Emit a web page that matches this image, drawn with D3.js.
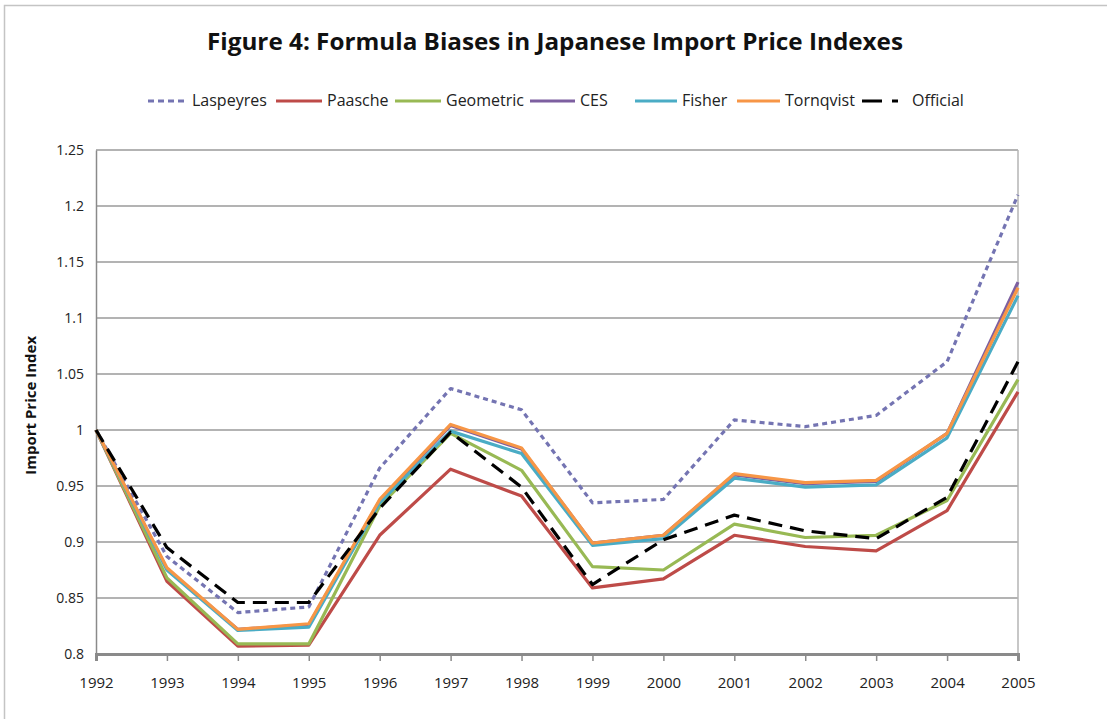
<!DOCTYPE html>
<html>
<head>
<meta charset="utf-8">
<script src="https://cdn.jsdelivr.net/npm/d3@7"></script>
<style>
  body { margin: 0; background: #fff; }
  svg { display: block; font-family: "Open Sans", sans-serif; }
</style>
</head>
<body>
<script>
// years on the x axis
const years = [1992, 1993, 1994, 1995, 1996, 1997, 1998, 1999, 2000, 2001, 2002, 2003, 2004, 2005];

// index values
const laspeyres  = [1.000, 0.887, 0.837, 0.842, 0.966, 1.037, 1.018, 0.935, 0.938, 1.009, 1.003, 1.013, 1.061, 1.210];
const paasche    = [1.000, 0.865, 0.807, 0.808, 0.906, 0.965, 0.941, 0.859, 0.867, 0.906, 0.896, 0.892, 0.928, 1.034];
const geometric  = [1.000, 0.868, 0.809, 0.809, 0.932, 0.997, 0.964, 0.878, 0.875, 0.916, 0.904, 0.906, 0.937, 1.045];
const ces        = [1.000, 0.876, 0.822, 0.826, 0.937, 1.004, 0.983, 0.899, 0.906, 0.960, 0.952, 0.954, 0.997, 1.132];
const fisher     = [1.000, 0.875, 0.821, 0.824, 0.935, 0.999, 0.979, 0.897, 0.903, 0.957, 0.949, 0.951, 0.993, 1.120];
const tornqvist  = [1.000, 0.877, 0.822, 0.827, 0.938, 1.005, 0.984, 0.899, 0.906, 0.961, 0.953, 0.955, 0.997, 1.127];
const official   = [1.000, 0.895, 0.846, 0.846, 0.930, 0.998, 0.949, 0.862, 0.902, 0.924, 0.910, 0.903, 0.940, 1.061];

const yTicks = [0.8, 0.85, 0.9, 0.95, 1, 1.05, 1.1, 1.15, 1.2, 1.25];

const series = [
  { name: "Laspeyres", values: laspeyres, color: "#7474B2", dash: "5,4" },
  { name: "Paasche",   values: paasche,   color: "#BE4B48", dash: null },
  { name: "Geometric", values: geometric, color: "#98B954", dash: null },
  { name: "CES",       values: ces,       color: "#7D5FA0", dash: null },
  { name: "Fisher",    values: fisher,    color: "#4AACC5", dash: null },
  { name: "Tornqvist", values: tornqvist, color: "#F79646", dash: null },
  { name: "Official",  values: official,  color: "#000000", dash: "14,8" }
];

const width = 1107, height = 719;
const margin = { left: 96, right: 89, top: 150, bottom: 65 };

const svg = d3.select("body").append("svg")
  .attr("width", width)
  .attr("height", height);

// outer chart border
svg.append("rect")
  .attr("x", 4.5).attr("y", 5.5)
  .attr("width", width + 10).attr("height", height + 10)
  .attr("fill", "none")
  .attr("stroke", "#c4c4c4")
  .attr("stroke-width", 1.5);

const x = d3.scaleLinear()
  .domain([years[0], years[years.length - 1]])
  .range([margin.left, width - margin.right]);

const y = d3.scaleLinear()
  .domain([0.8, 1.25])
  .range([height - margin.bottom, margin.top]);

// title
svg.append("text")
  .attr("x", 555).attr("y", 50)
  .attr("text-anchor", "middle")
  .attr("textLength", 696)
  .attr("lengthAdjust", "spacingAndGlyphs")
  .style("font-size", "23px")
  .style("font-weight", "bold")
  .style("fill", "#111")
  .text("Figure 4: Formula Biases in Japanese Import Price Indexes");

// gridlines
svg.append("g")
  .selectAll("line")
  .data(yTicks.filter(d => d > 0.8))
  .join("line")
  .attr("x1", x.range()[0]).attr("x2", x.range()[1])
  .attr("y1", d => y(d)).attr("y2", d => y(d))
  .attr("stroke", "#9a9a9a")
  .attr("stroke-width", 1.5);

// right border of plot area
svg.append("line")
  .attr("x1", x.range()[1]).attr("x2", x.range()[1])
  .attr("y1", y(1.25)).attr("y2", y(0.8))
  .attr("stroke", "#b5b5b5")
  .attr("stroke-width", 1.5);

// y axis
const yAxis = svg.append("g")
  .attr("transform", `translate(${margin.left},0)`)
  .call(d3.axisLeft(y).tickValues(yTicks).tickSize(0).tickPadding(12).tickFormat(d3.format("")));
yAxis.select(".domain").attr("stroke", "#8a8a8a").attr("stroke-width", 1.5);
yAxis.selectAll("text")
  .style("font-size", "14px")
  .style("fill", "#222")
  .style("font-family", "\"Open Sans\", sans-serif");

// x axis
const xAxis = svg.append("g")
  .attr("transform", `translate(0,${y(0.8)})`)
  .call(d3.axisBottom(x).tickValues(years).tickSize(7).tickPadding(16).tickFormat(d3.format("d")));
xAxis.select(".domain").attr("stroke", "#8a8a8a").attr("stroke-width", 3);
xAxis.selectAll(".tick line").attr("stroke", "#8a8a8a").attr("stroke-width", 1.5);
xAxis.selectAll("text")
  .style("font-size", "15px")
  .style("fill", "#222")
  .style("font-family", "\"Open Sans\", sans-serif");

// y axis label
svg.append("text")
  .attr("transform", `translate(36,${y(1.022)}) rotate(-90)`)
  .attr("text-anchor", "middle")
  .style("font-size", "15px")
  .style("font-weight", "bold")
  .style("fill", "#111")
  .text("Import Price Index");

// lines
const line = d3.line()
  .x((d, i) => x(years[i]))
  .y(d => y(d));

svg.append("g")
  .selectAll("path")
  .data(series)
  .join("path")
  .attr("d", d => line(d.values))
  .attr("fill", "none")
  .attr("stroke", d => d.color)
  .attr("stroke-width", 3.2)
  .attr("stroke-dasharray", d => d.dash)
  .attr("stroke-linejoin", "round");

// legend
const legendLine = [[148, 188], [276, 322], [395, 441], [530, 575], [635, 677], [737, 780], [862, 898]];
const legendText = [192, 327, 446, 580, 682, 785, 912];
const legend = svg.append("g")
  .selectAll("g")
  .data(series)
  .join("g");

legend.append("line")
  .attr("x1", (d, i) => legendLine[i][0]).attr("x2", (d, i) => legendLine[i][1])
  .attr("y1", 101).attr("y2", 101)
  .attr("stroke", d => d.color)
  .attr("stroke-width", 3)
  .attr("stroke-dasharray", d => d.name === "Laspeyres" ? "6,4" : d.name === "Official" ? "20,10,6,20" : null);

legend.append("text")
  .attr("x", (d, i) => legendText[i])
  .attr("y", 106)
  .style("font-size", "16px")
  .style("fill", "#222")
  .text(d => d.name);
</script>
</body>
</html>
